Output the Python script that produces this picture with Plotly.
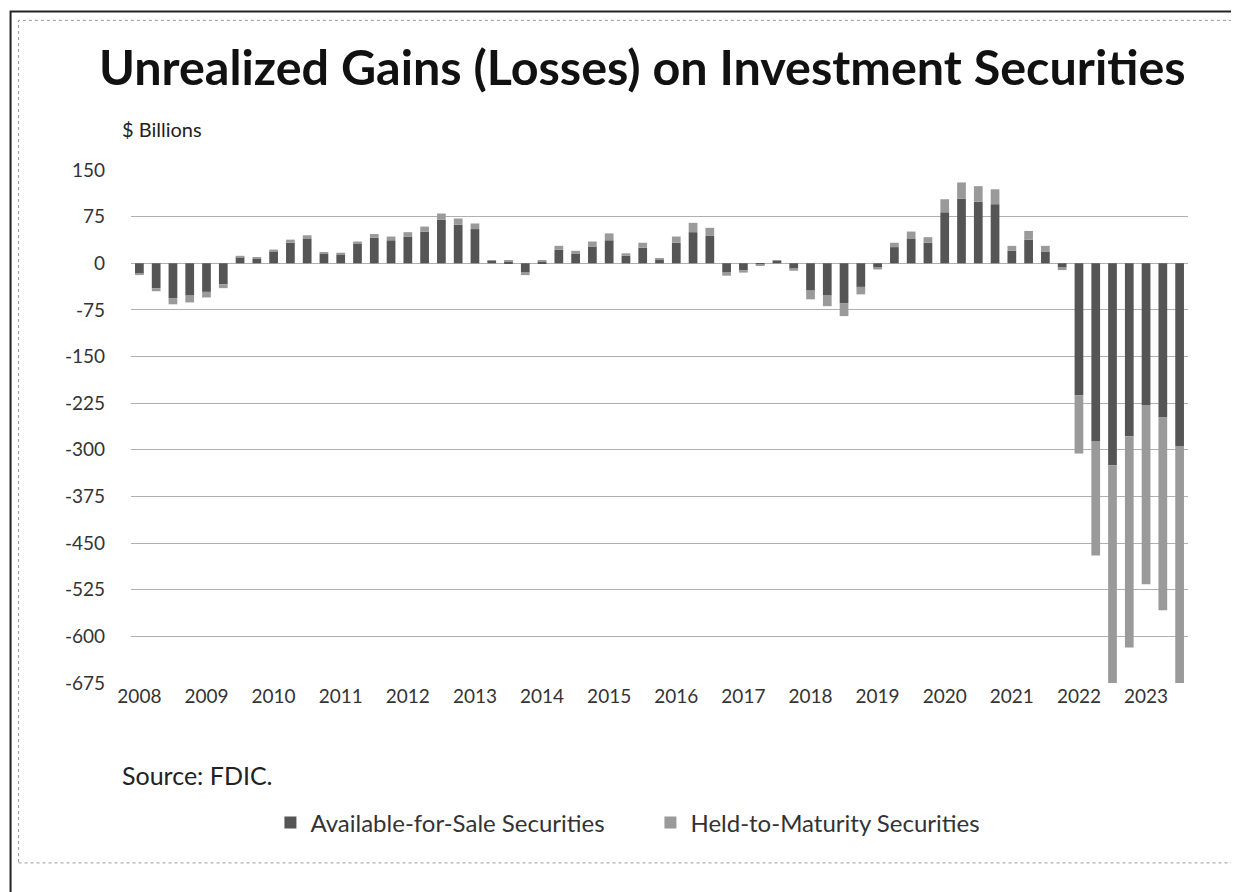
import plotly.graph_objects as go

quarters = [f"{y}Q{q}" for y in range(2008, 2024) for q in range(1, 5)][:63]

afs = [-17, -40, -56, -52, -46, -34, 10, 7,
       19, 33, 40, 15, 14, 31, 41, 37,
       43, 51, 70, 62, 55, 4, 3, -15,
       3, 22, 15, 27, 37, 12, 25, 6,
       33, 50, 44, -15, -11, -2, 4, -9,
       -44, -52, -64, -38, -7, 26, 40, 33,
       82, 104, 99, 95, 20, 38, 19, -7,
       -212, -286, -325, -278, -228, -248, -294]
htm = [-2, -5, -10, -11, -9, -6, 2, 2,
       3, 5, 5, 3, 3, 4, 6, 6,
       7, 8, 10, 10, 9, 1, 1, -4,
       1, 6, 5, 8, 11, 4, 8, 2,
       10, 15, 13, -5, -4, -1, 1, -3,
       -14, -17, -21, -12, -3, 7, 11, 9,
       21, 26, 25, 24, 8, 14, 9, -4,
       -94, -184, -365, -340, -288, -310, -390]

year_ticks = [f"{y}Q1" for y in range(2008, 2024)]
year_labels = [str(y) for y in range(2008, 2024)]
y_ticks = [150, 75, 0, -75, -150, -225, -300, -375, -450, -525, -600, -675]
y_labels = ["150", "75", "0", "-75", "-150", "-225", "-300", "-375", "-450", "-525", "-600", "-675"]

FONT = "Lato"
W, H = 1239, 892
L, R, T, B = 122.5, 1180, 161.7, 675

def px(x):
    return (x - L) / (R - L)

def py(y):
    return (B - y) / (B - T)

fig = go.Figure()
fig.add_trace(go.Bar(x=quarters, y=afs, name="Available-for-Sale Securities",
                     marker=dict(color="#555555", line=dict(width=0))))
fig.add_trace(go.Bar(x=quarters, y=htm, name="Held-to-Maturity Securities",
                     marker=dict(color="#9a9a9a", line=dict(width=0))))

fig.update_layout(
    width=W, height=H,
    margin=dict(l=L, r=W - R, t=T, b=H - B, autoexpand=False),
    paper_bgcolor="white", plot_bgcolor="white",
    barmode="relative", bargap=0.48,
    font=dict(family=FONT, color="#1a1a1a"),
    showlegend=True,
    legend=dict(orientation="h", x=px(262), xanchor="left", y=py(815), yanchor="middle",
                font=dict(size=24, family=FONT, color="#333333"),
                entrywidth=335, entrywidthmode="pixels", bgcolor="rgba(0,0,0,0)",
                itemwidth=30),
    xaxis=dict(type="category", tickmode="array", tickvals=year_ticks, ticktext=year_labels,
               tickfont=dict(size=19, family=FONT, color="#333333"), showgrid=False,
               showline=False, ticks="", ticklabelstandoff=0),
    yaxis=dict(range=[-675, 150], tickmode="array", tickvals=y_ticks, ticktext=y_labels,
               tickfont=dict(size=19, family=FONT, color="#333333"), showgrid=True,
               gridcolor="#b0b0b0", gridwidth=1, zeroline=True, zerolinecolor="#b0b0b0",
               zerolinewidth=1, showline=False, ticks="", ticklabelstandoff=25),
)

fig.add_annotation(text="Unrealized Gains (Losses) on Investment Securities",
                   xref="paper", yref="paper", x=px(634), y=py(58), xanchor="center", yanchor="middle",
                   showarrow=False, font=dict(size=48.5, family=FONT, color="#111111", weight=700))
fig.add_annotation(text="$ Billions", xref="paper", yref="paper", x=px(111), y=py(121),
                   xanchor="left", yanchor="middle", showarrow=False,
                   font=dict(size=20, family=FONT, color="#222222"))
fig.add_annotation(text="Source: FDIC.", xref="paper", yref="paper", x=px(111), y=py(767),
                   xanchor="left", yanchor="middle", showarrow=False,
                   font=dict(size=25, family=FONT, color="#222222"))

fig.add_shape(type="rect", xref="paper", yref="paper", x0=px(10), x1=px(1228), y0=py(855), y1=py(12),
              line=dict(color="#999999", width=1, dash="dot"), layer="below")
fig.add_shape(type="rect", xref="paper", yref="paper", x0=px(2), x1=px(1236.5), y0=py(891), y1=py(3),
              line=dict(color="#222222", width=2), layer="below")

fig.write_html("out.html")
